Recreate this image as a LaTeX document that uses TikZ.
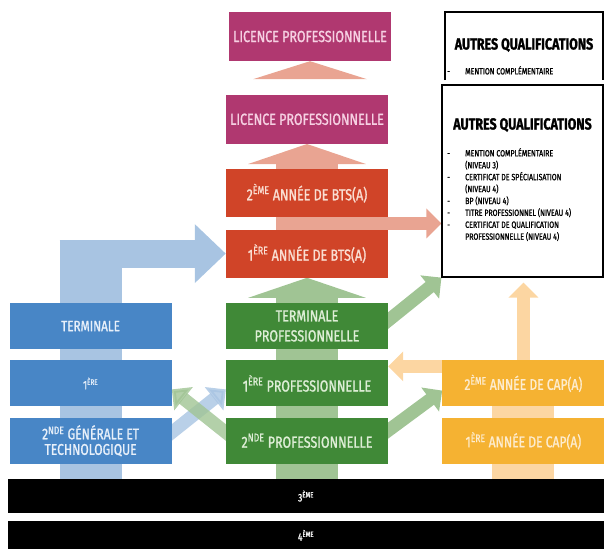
\documentclass[tikz,border=0pt]{standalone}
\usepackage{fontspec}
\setmainfont{Fira Sans}[FakeStretch=0.78, FakeBold=1.2]
\usetikzlibrary{positioning,calc,arrows.meta}
\pgfdeclarelayer{background}
\pgfsetlayers{background,main}

\definecolor{licfond}{RGB}{176,56,112}
\definecolor{lictexte}{RGB}{246,208,226}
\definecolor{btsfond}{RGB}{208,68,40}
\definecolor{btstexte}{RGB}{250,222,210}
\definecolor{profond}{RGB}{64,137,55}
\definecolor{protexte}{RGB}{222,238,214}
\definecolor{genfond}{RGB}{72,134,198}
\definecolor{gentexte}{RGB}{232,240,250}
\definecolor{capfond}{RGB}{245,178,50}
\definecolor{captexte}{RGB}{253,236,206}
\definecolor{rougeclair}{RGB}{233,164,146}
\definecolor{vertclair}{RGB}{160,196,148}
\definecolor{bleuclair}{RGB}{168,196,226}
\definecolor{orangeclair}{RGB}{252,214,162}

\newcommand{\expo}[1]{\textsuperscript{#1}}

\tikzset{
  etage/.style={rectangle, minimum width=162pt, minimum height=46pt, inner sep=2pt, align=center, font=\fontsize{16}{20}\selectfont},
  bande/.style={rectangle, fill=black, text=white, minimum width=596pt, minimum height=34pt, font=\fontsize{11}{12}\selectfont},
  flux/.style={line width=13pt, -{Triangle[length=15pt,width=29pt]}},
  tronc/.style={line width=62pt, -{Triangle[length=20pt,width=117pt]}},
  cadre/.style={draw=black, line width=1.2pt},
  titre/.style={font=\bfseries\fontsize{16}{18}\selectfont},
  liste/.style={align=left, inner sep=0pt, font=\fontsize{9}{11.9}\selectfont},
}

\begin{document}
\begin{tikzpicture}[x=1pt, y=-1pt, node distance=11pt]
  \useasboundingbox (0,0) rectangle (604,549);

  % voie professionnelle
  \node [etage, fill=profond, text=protexte] at (307,326) (termpro) {TERMINALE\\PROFESSIONNELLE};
  \node [etage, fill=profond, text=protexte, below=of termpro] (premierepro) {1\expo{ÈRE} PROFESSIONNELLE};
  \node [etage, fill=profond, text=protexte, below=of premierepro] (secondepro) {2\expo{NDE} PROFESSIONNELLE};

  % BTS et licence
  \node [etage, fill=btsfond, text=btstexte, minimum height=48pt, above=25pt of termpro] (btsun) {1\expo{ÈRE} ANNÉE DE BTS(A)};
  \node [etage, fill=btsfond, text=btstexte, minimum height=48pt, above=12pt of btsun] (btsdeux) {2\expo{ÈME} ANNÉE DE BTS(A)};
  \node [etage, fill=licfond, text=lictexte, minimum height=49pt, above=25pt of btsdeux] (licence) {LICENCE PROFESSIONNELLE};
  \node [etage, fill=licfond, text=lictexte, minimum height=49pt] at (310,36.5) (licencehaut) {LICENCE PROFESSIONNELLE};

  % voie generale
  \node [etage, fill=genfond, text=gentexte, left=54pt of termpro, font=\fontsize{15}{18}\selectfont] (terminale) {TERMINALE};
  \node [etage, fill=genfond, text=gentexte, below=of terminale, font=\fontsize{12}{14}\selectfont] (premiere) {1\expo{ÈRE}};
  \node [etage, fill=genfond, text=gentexte, below=of premiere, font=\fontsize{15.5}{15.5}\selectfont] (seconde) {2\expo{NDE} GÉNÉRALE ET\\TECHNOLOGIQUE};

  % CAP
  \node [etage, fill=capfond, text=captexte, right=54pt of premierepro, font=\fontsize{15.5}{18}\selectfont] (capdeux) {2\expo{ÈME} ANNÉE DE CAP(A)};
  \node [etage, fill=capfond, text=captexte, below=of capdeux, font=\fontsize{15.5}{18}\selectfont] (capun) {1\expo{ÈRE} ANNÉE DE CAP(A)};

  % college
  \node [bande] at (306,496) (troisieme) {3\expo{ÈME}};
  \node [bande, minimum height=28pt, below=8pt of troisieme] (quatrieme) {4\expo{ÈME}};

  % autres qualifications
  \node [cadre, minimum width=161pt, minimum height=192pt] at (522.5,181) (autres) {};
  \node [titre] at (522.5,125) (autrestitre) {AUTRES QUALIFICATIONS};
  \node [liste, anchor=north west] at (447,148) (autresliste) {
    \makebox[18pt][l]{-}MENTION COMPLÉMENTAIRE\\
    \hspace*{18pt}(NIVEAU 3)\\
    \makebox[18pt][l]{-}CERTIFICAT DE SPÉCIALISATION\\
    \hspace*{18pt}(NIVEAU 4)\\
    \makebox[18pt][l]{-}BP (NIVEAU 4)\\
    \makebox[18pt][l]{-}TITRE PROFESSIONNEL (NIVEAU 4)\\
    \makebox[18pt][l]{-}CERTIFICAT DE QUALIFICATION\\
    \hspace*{18pt}PROFESSIONNELLE (NIVEAU 4)};
  \node [titre] at (524,45) (autreshauttitre) {AUTRES QUALIFICATIONS};
  \node [liste, anchor=north west] at (447,66) (autreshautliste) {\makebox[18pt][l]{-}MENTION COMPLÉMENTAIRE};
  \draw [cadre] (445,80) -- (445,12) -- (603,12) -- (603,80);

  \begin{pgfonlayer}{background}
    % troncs
    \draw [line width=62pt, bleuclair] (terminale.center |- troisieme.north) -- ($(terminale.center |- btsun.west)+(0,-14)$);
    \draw [line width=28pt, bleuclair, -{Triangle[length=31pt,width=57pt]}] ($(terminale.center |- btsun.west)+(-31,0)$) -- (btsun.west);
    \draw [tronc, vertclair] (termpro.center |- troisieme.north) -- (btsun.south);
    \draw [tronc, rougeclair] (btsun.south) -- (licence.south);
    \draw [line width=62pt, orangeclair] (capun.center |- troisieme.north) -- (capdeux.center);
    \fill [rougeclair] (licencehaut.south) -- ++(-57,18) -- ++(114,0) -- cycle;
    % fleches
    \coordinate (entrebts) at ($(btsdeux.south)!.5!(btsun.north)$);
    \draw [flux, rougeclair] (entrebts) -- (entrebts -| autres.west);
    \draw [flux, vertclair] ($(termpro.east)+(-18,9)$) -- (autres.south west);
    \draw [flux, orangeclair, shorten >=5pt] (capdeux.north) -- (autres.south -| capdeux.north);
    \draw [flux, orangeclair] ($(capdeux.west)+(20,-17)$) -- ($(premierepro.east)+(0,-17)$);
    \draw [flux, vertclair] ($(secondepro.east)+(-18,3)$) -- ($(capdeux.south west)+(0,-16)$);
    \draw [flux, bleuclair, opacity=.8] ($(seconde.east)+(-18,6)$) -- ($(premierepro.west)+(0,6)$);
    \draw [flux, vertclair, opacity=.8] ($(secondepro.west)+(18,6)$) -- ($(premiere.east)+(0,6)$);
  \end{pgfonlayer}
\end{tikzpicture}
\end{document}
